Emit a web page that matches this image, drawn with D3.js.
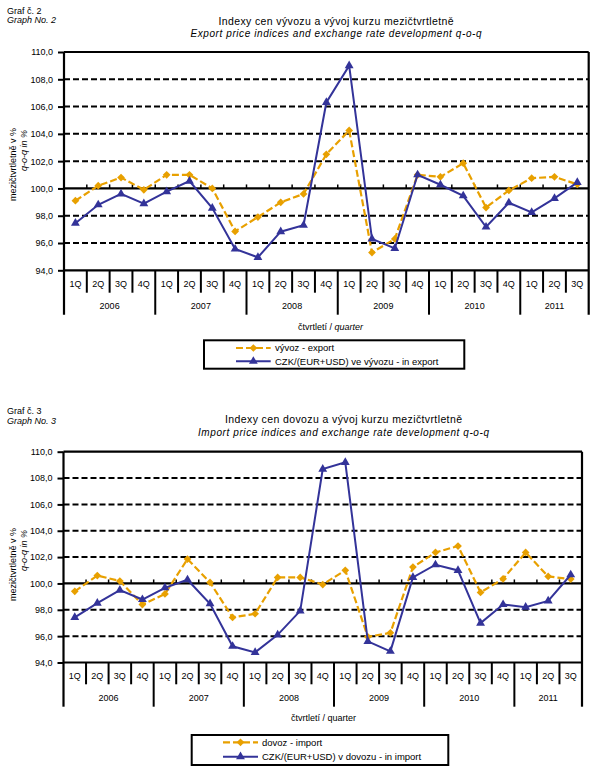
<!DOCTYPE html>
<html><head><meta charset="utf-8">
<script src="https://cdn.jsdelivr.net/npm/d3@7"></script>
<style>
body{margin:0;background:#fff}
svg{display:block}
text{font-family:"Liberation Sans",Arial,sans-serif;fill:#000}
</style>
</head><body>
<svg id="c" width="604" height="777"></svg>
<script>
// ---------- data ----------
const quarters = ["1Q","2Q","3Q","4Q","1Q","2Q","3Q","4Q","1Q","2Q","3Q","4Q",
                  "1Q","2Q","3Q","4Q","1Q","2Q","3Q","4Q","1Q","2Q","3Q"];
const years = ["2006","2007","2008","2009","2010","2011"];
const yearLengths = [4,4,4,4,4,3];
const yTicks = [94,96,98,100,102,104,106,108,110];

const exportPrice = [99.1,100.2,100.8,99.9, 101.0,101.0,100.0,96.85, 97.9,98.98,99.6,102.5,
                     104.25,95.3,96.3,101.0, 100.85,101.85,98.6,99.85, 100.75,100.85,100.3];
const exportFx    = [97.45,98.8,99.6,98.88, 99.76,100.54,98.56,95.56, 94.95,96.83,97.3,106.3,
                     109.0,96.3,95.6,101.0, 100.27,99.46,97.17,98.95, 98.24,99.27,100.44];
const importPrice = [99.4,100.6,100.18,98.4, 99.2,101.85,100.08,97.42, 97.7,100.46,100.46,99.92,
                     101.0,95.95,96.25,101.24, 102.35,102.84,99.32,100.35, 102.35,100.53,100.33];
const importFx    = [97.42,98.5,99.49,98.78, 99.67,100.28,98.46,95.23, 94.77,96.1,97.92,108.68,
                     109.19,95.6,94.85,100.46, 101.42,100.99,96.99,98.4, 98.2,98.68,100.66];

const ORANGE = "#E8A000", BLUE = "#333399";
const svg = d3.select("#c");
const fmt = v => d3.format(".1f")(v).replace(".", ",");

function drawChart(o){
  const g = svg.append("g");
  const x = d3.scaleBand().domain(d3.range(quarters.length)).range([o.l, o.r]);
  const y = d3.scaleLinear().domain([94, 110]).range([o.b, o.t]);
  const bw = x.bandwidth();

  // header texts
  g.append("text").attr("x", 7).attr("y", o.h1).attr("font-size", 9).text(o.graf);
  g.append("text").attr("x", 7).attr("y", o.h2).attr("font-size", 9).attr("font-style","italic").text(o.graph);
  g.append("text").attr("x", o.tx).attr("y", o.t1).attr("font-size", 10.5).attr("text-anchor","middle")
    .attr("textLength", o.t1w).attr("lengthAdjust","spacing").text(o.title1);
  g.append("text").attr("x", o.tx).attr("y", o.t2).attr("font-size", 10).attr("font-style","italic")
    .attr("text-anchor","middle").attr("textLength", o.t2w).attr("lengthAdjust","spacing").text(o.title2);

  // gridlines
  yTicks.filter(v => v !== 94 && v !== 100 && v !== 110).forEach(v => {
    g.append("line").attr("x1", o.l).attr("x2", o.r).attr("y1", y(v)).attr("y2", y(v))
      .attr("stroke", "#000").attr("stroke-width", 2).attr("stroke-dasharray", "6,3");
  });
  [100, 110, 94].forEach(v => {
    g.append("line").attr("x1", o.l).attr("x2", o.r).attr("y1", y(v)).attr("y2", y(v))
      .attr("stroke", "#000").attr("stroke-width", 2.2);
  });

  // y axis
  const ya = d3.axisLeft(y).tickValues(yTicks).tickSize(6).tickSizeOuter(0).tickPadding(5).tickFormat(fmt);
  const yg = g.append("g").attr("transform", `translate(${o.l},0)`).call(ya);
  yg.select(".domain").remove();
  yg.selectAll(".tick line").attr("stroke", "#000").attr("stroke-width", 2);
  yg.selectAll(".tick text").attr("font-size", 9).attr("font-family", '"Liberation Sans",Arial,sans-serif').attr("fill","#000");

  // category separators and ticks on the 100 line
  const yearBounds = [0];
  yearLengths.forEach(n => yearBounds.push(yearBounds[yearBounds.length-1] + n));
  for (let i = 0; i <= quarters.length; i++) {
    const xx = i === quarters.length ? o.r : x(i);
    const isYear = yearBounds.includes(i);
    if (i === 0 || i === quarters.length) {
      g.append("line").attr("x1", xx).attr("x2", xx).attr("y1", o.t).attr("y2", o.yb)
        .attr("stroke", "#000").attr("stroke-width", 2.2);
    } else {
      g.append("line").attr("x1", xx).attr("x2", xx).attr("y1", o.b).attr("y2", isYear ? o.yb : o.qb)
        .attr("stroke", "#000").attr("stroke-width", 2);
      g.append("line").attr("x1", xx).attr("x2", xx).attr("y1", y(100) - 4).attr("y2", y(100))
        .attr("stroke", "#000").attr("stroke-width", 1.5);
    }
  }
  quarters.forEach((q, i) => {
    g.append("text").attr("x", x(i) + bw/2).attr("y", o.qy).attr("font-size", 9)
      .attr("text-anchor", "middle").text(q);
  });
  years.forEach((yr, k) => {
    const a = yearBounds[k], b = yearBounds[k+1];
    const xa = x(a), xb = b === quarters.length ? o.r : x(b);
    g.append("text").attr("x", (xa + xb)/2).attr("y", o.yy).attr("font-size", 9)
      .attr("text-anchor", "middle").text(yr);
  });

  // x axis title
  const xt = g.append("text").attr("x", o.xtx).attr("y", o.xty).attr("font-size", 9).attr("text-anchor", "middle");
  xt.append("tspan").text("čtvrtletí / ");
  xt.append("tspan").attr("font-style", o.xItalic ? "italic" : "normal").text("quarter");

  // y axis title
  g.append("text").attr("transform", `translate(${o.ya1x},${o.yat}) rotate(-90)`).attr("font-size", 9)
    .attr("text-anchor", "end").attr("fill", "#111133").text("mezičtvrtletně v %");
  g.append("text").attr("transform", `translate(${o.ya2x},${o.yat + 2}) rotate(-90)`).attr("font-size", 9)
    .attr("font-style","italic").attr("text-anchor", "end").attr("fill", "#111133").text("q-o-q in %");

  // series
  const line = d3.line().x((d, i) => x(i) + bw/2).y(d => y(d));
  g.append("path").datum(o.s1).attr("d", line).attr("fill", "none").attr("stroke", ORANGE)
    .attr("stroke-width", 2.2).attr("stroke-dasharray", "7,3");
  const diamond = d3.symbol().type(d3.symbolSquare).size(30);
  g.selectAll(".dm").data(o.s1).join("path")
    .attr("transform", (d, i) => `translate(${x(i) + bw/2},${y(d)}) rotate(45)`)
    .attr("d", diamond).attr("fill", ORANGE);

  g.append("path").datum(o.s2).attr("d", line).attr("fill", "none").attr("stroke", BLUE).attr("stroke-width", 2);
  const tri = d3.symbol().type(d3.symbolTriangle).size(34);
  g.selectAll(".tr").data(o.s2).join("path")
    .attr("transform", (d, i) => `translate(${x(i) + bw/2},${y(d)})`)
    .attr("d", tri).attr("fill", BLUE);

  // legend
  const L = o.leg;
  g.append("rect").attr("x", L.x).attr("y", L.y).attr("width", L.w).attr("height", L.h)
    .attr("fill", "#fff").attr("stroke", "#000").attr("stroke-width", 2);
  const cx = (L.s1 + L.s2) / 2;
  g.append("line").attr("x1", L.s1).attr("x2", L.s2).attr("y1", L.r1).attr("y2", L.r1)
    .attr("stroke", ORANGE).attr("stroke-width", 2.2).attr("stroke-dasharray", "7,3");
  g.append("path").attr("transform", `translate(${cx},${L.r1}) rotate(45)`).attr("d", diamond).attr("fill", ORANGE);
  g.append("line").attr("x1", L.s1).attr("x2", L.s2).attr("y1", L.r2).attr("y2", L.r2)
    .attr("stroke", BLUE).attr("stroke-width", 2);
  g.append("path").attr("transform", `translate(${cx},${L.r2})`).attr("d", tri).attr("fill", BLUE);
  g.append("text").attr("x", L.tx).attr("y", L.r1 + 3.3).attr("font-size", 9.5).text(o.l1);
  g.append("text").attr("x", L.tx).attr("y", L.r2 + 3.3).attr("font-size", 9.5).text(o.l2);
}

drawChart({
  l: 64, r: 588.7, t: 52, b: 270.3, qb: 292.7, yb: 314.7, qy: 287, yy: 309, xtx: 330.5, xty: 330, xItalic: true,
  h1: 13.5, h2: 23, graf: "Graf č. 2", graph: "Graph No. 2",
  tx: 336, t1: 24.5, t2: 37.3, t1w: 235, t2w: 291,
  title1: "Indexy cen vývozu a vývoj kurzu mezičtvrtletně",
  title2: "Export price indices and exchange rate development  q-o-q",
  ya1x: 16, ya2x: 26.5, yat: 128,
  s1: exportPrice, s2: exportFx,
  l1: "vývoz - export", l2: "CZK/(EUR+USD) ve vývozu - in export",
  leg: {x: 204, y: 340.3, w: 260.3, h: 28.4, s1: 236, s2: 270.7, tx: 275, r1: 348, r2: 361.3}
});

drawChart({
  l: 63.5, r: 582, t: 451.7, b: 662.5, qb: 684.3, yb: 706.7, qy: 678.5, yy: 700.5, xtx: 323.5, xty: 721, xItalic: false,
  h1: 414, h2: 423.5, graf: "Graf č. 3", graph: "Graph No. 3",
  tx: 343.5, t1: 423, t2: 436, t1w: 237, t2w: 291,
  title1: "Indexy cen dovozu a vývoj kurzu mezičtvrtletně",
  title2: "Import price indices and exchange rate development  q-o-q",
  ya1x: 16, ya2x: 26.5, yat: 528,
  s1: importPrice, s2: importFx,
  l1: "dovoz - import", l2: "CZK/(EUR+USD) v dovozu  - in import",
  leg: {x: 191.7, y: 735, w: 256.6, h: 30, s1: 223, s2: 258, tx: 262, r1: 742.3, r2: 756.7}
});
</script>
</body></html>
